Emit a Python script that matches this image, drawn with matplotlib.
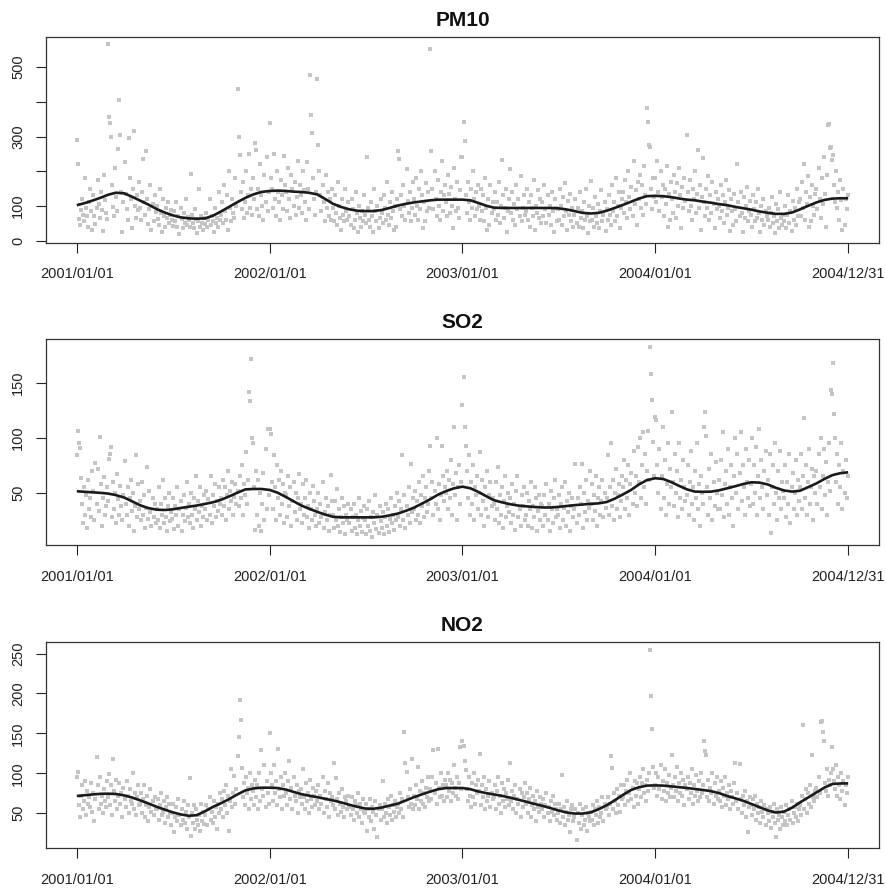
import numpy as np
import pandas as pd
import matplotlib
matplotlib.use("Agg")
import matplotlib.pyplot as plt

plt.rcParams['font.family'] = ['Liberation Sans', 'DejaVu Sans']

# ---------------- scatter data (roughly every 2 days, per year) ----------------
pm10_2001 = [290, 220, 62, 45, 88, 120, 75, 55, 180, 95, 70, 40, 110, 150, 85, 30,
             130, 72, 48, 95, 175, 105, 66, 140, 88, 28, 190, 118, 80, 62,
             568, 355, 340, 300, 160, 98, 70, 210, 125, 85, 264, 406, 303, 140, 25, 110,
             226, 135, 92, 60, 297, 180, 120, 35, 150, 317, 100, 65, 130, 88, 170,
             95, 58, 140, 236, 110, 75, 258, 120, 48, 90, 160, 30, 105, 55, 130, 82,
             100, 62, 45, 150, 80, 25, 120, 70, 40, 95, 65, 110, 50, 75, 88,
             60, 42, 85, 55, 110, 38, 70, 20, 95, 62, 35, 80, 52, 120, 45, 68,
             58, 40, 193, 75, 50, 35, 90, 62, 22, 55, 150, 40, 70, 52, 30, 65,
             48, 80, 38, 60, 120, 45, 72, 55, 25, 95, 50, 65, 40, 140, 58,
             75, 110, 50, 160, 85, 60, 130, 30, 200, 95, 55, 120, 80, 65, 180, 100,
             438, 300, 246, 140, 90, 170, 65, 110, 200, 80, 130, 250, 95, 150, 75,
             180, 120, 281, 262, 90, 150, 70, 220, 130, 100, 60, 190, 110, 240, 85, 140]
pm10_2002 = [339, 180, 150, 95, 250, 120, 70, 200, 140, 110, 60, 175, 130, 90, 245, 160,
             140, 85, 210, 120, 65, 190, 150, 100, 170, 75, 125, 230, 95, 160,
             130, 80, 200, 145, 110, 60, 226, 150, 90, 478, 363, 310, 180, 120, 75, 140,
             467, 277, 200, 130, 85, 160, 110, 55, 190, 95, 140, 70, 120, 60, 150,
             95, 55, 130, 80, 45, 170, 100, 65, 30, 120, 75, 55, 150, 85, 60, 110,
             70, 45, 120, 90, 35, 60, 140, 80, 25, 100, 65, 40, 85, 55, 130,
             75, 50, 240, 95, 60, 40, 110, 70, 25, 150, 85, 55, 100, 35, 65, 120,
             80, 50, 130, 95, 60, 170, 75, 45, 110, 65, 140, 85, 30, 100, 40, 120,
             258, 236, 90, 130, 70, 160, 100, 60, 207, 115, 80, 140, 55, 95, 170,
             120, 75, 180, 100, 60, 150, 90, 200, 130, 35, 110, 55, 165, 85, 140, 95,
             553, 257, 150, 90, 200, 120, 70, 175, 100, 60, 140, 229, 85, 130, 160,
             110, 70, 190, 135, 80, 155, 100, 35, 210, 120, 85, 170, 95, 65, 145, 241]
pm10_2003 = [241, 341, 288, 130, 80, 170, 110, 60, 150, 95, 200, 120, 70, 140, 90, 160,
             100, 60, 150, 85, 130, 55, 180, 95, 30, 120, 45, 160, 80, 110,
             90, 140, 60, 110, 75, 170, 50, 100, 232, 130, 65, 95, 150, 25, 85, 120,
             207, 80, 140, 60, 105, 45, 160, 90, 120, 70, 185, 55, 95, 130, 75,
             85, 150, 60, 110, 40, 130, 95, 70, 175, 30, 100, 80, 145, 65, 120, 50,
             110, 70, 160, 90, 50, 130, 75, 100, 45, 140, 85, 25, 120, 95, 55,
             90, 60, 150, 100, 45, 125, 70, 165, 85, 30, 115, 75, 135, 55, 95, 40,
             75, 120, 50, 95, 40, 140, 65, 85, 35, 110, 60, 150, 70, 22, 100, 55,
             172, 60, 95, 40, 125, 70, 50, 105, 35, 85, 145, 55, 75, 110, 28,
             90, 60, 130, 75, 45, 160, 85, 110, 55, 180, 70, 100, 140, 35, 95, 120,
             140, 80, 175, 110, 65, 200, 125, 90, 155, 70, 230, 105, 145, 45, 170,
             120, 190, 95, 160, 75, 215, 130, 105, 383, 341, 277, 270, 150, 90, 180, 125]
pm10_2004 = [180, 110, 230, 140, 85, 200, 125, 160, 70, 150, 105, 215, 40, 135, 60, 170,
             120, 80, 190, 140, 65, 165, 100, 210, 130, 35, 155, 95, 180, 115,
             304, 140, 85, 175, 100, 60, 150, 120, 200, 80, 135, 262, 95, 160, 30, 125,
             239, 110, 70, 150, 95, 185, 60, 130, 80, 170, 105, 35, 140, 90, 120,
             100, 65, 160, 85, 130, 50, 110, 175, 75, 95, 145, 28, 120, 85, 45, 135,
             90, 55, 222, 110, 70, 140, 80, 25, 125, 65, 100, 155, 55, 85, 115,
             75, 40, 130, 90, 55, 110, 65, 150, 80, 25, 100, 60, 120, 45, 85, 70,
             60, 95, 40, 80, 125, 50, 70, 22, 105, 55, 90, 35, 140, 65, 45, 75,
             55, 100, 35, 75, 130, 50, 85, 28, 115, 60, 95, 45, 150, 70, 110,
             120, 70, 170, 95, 222, 60, 140, 105, 185, 40, 125, 55, 160, 100, 75, 135,
             150, 90, 210, 120, 65, 180, 105, 240, 135, 40, 190, 332, 335, 267, 270,
             233, 246, 160, 110, 200, 95, 140, 60, 175, 116, 30, 150, 45, 120, 90, 130]

so2_2001 = [84, 106, 95, 91, 63, 40, 22, 55, 30, 48, 18, 62, 35, 45, 28, 70,
            52, 25, 77, 40, 72, 33, 101, 58, 20, 45, 64, 30, 38, 55,
            42, 81, 85, 92, 28, 60, 35, 50, 22, 67, 44, 30, 56, 38, 25, 48,
            79, 40, 30, 55, 20, 45, 62, 33, 50, 15, 38, 84, 28, 58, 35,
            42, 25, 60, 30, 48, 18, 36, 73, 26, 52, 32, 20, 45, 28, 40, 22,
            35, 25, 55, 18, 40, 30, 62, 22, 45, 28, 15, 38, 50, 24, 32,
            26, 45, 17, 38, 30, 55, 20, 35, 42, 15, 30, 48, 24, 36, 60, 28,
            40, 22, 50, 30, 18, 45, 35, 65, 25, 42, 32, 55, 20, 38, 28, 48,
            35, 52, 25, 44, 30, 65, 22, 48, 38, 58, 28, 42, 33, 55, 40,
            45, 30, 62, 38, 55, 25, 48, 70, 35, 52, 42, 60, 30, 46, 58, 40,
            52, 38, 65, 45, 75, 30, 58, 48, 87, 40, 62, 142, 134, 172, 100,
            95, 55, 16, 70, 30, 62, 20, 50, 15, 40, 68, 25, 90, 35, 108, 48]
so2_2002 = [108, 104, 60, 35, 84, 55, 25, 75, 45, 62, 30, 70, 40, 58, 22, 50,
            48, 28, 65, 38, 55, 20, 42, 60, 32, 50, 25, 45, 67, 35,
            40, 22, 58, 30, 45, 62, 28, 38, 18, 50, 35, 25, 56, 42, 30, 20,
            35, 50, 22, 40, 28, 60, 18, 32, 45, 25, 38, 15, 30, 66, 42,
            30, 18, 42, 25, 53, 20, 35, 14, 28, 45, 22, 38, 12, 30, 25, 40,
            22, 35, 15, 28, 40, 18, 30, 12, 25, 45, 20, 33, 14, 27, 38,
            25, 12, 35, 20, 42, 15, 28, 10, 32, 22, 48, 17, 30, 13, 38, 24,
            18, 32, 12, 28, 40, 20, 35, 14, 26, 45, 22, 30, 16, 38, 25, 50,
            28, 42, 20, 35, 84, 25, 48, 18, 38, 30, 55, 22, 76, 32, 45,
            35, 52, 25, 42, 30, 60, 22, 48, 38, 65, 28, 45, 55, 32, 40, 70,
            93, 45, 60, 30, 52, 40, 100, 35, 58, 25, 48, 93, 65, 42, 55,
            50, 70, 35, 62, 45, 80, 30, 58, 110, 48, 68, 25, 55, 75, 40, 60]
so2_2003 = [130, 156, 110, 93, 70, 45, 84, 30, 60, 40, 75, 25, 55, 48, 65, 35,
            50, 87, 30, 62, 42, 20, 55, 35, 70, 28, 48, 60, 38, 45,
            40, 25, 60, 35, 73, 22, 48, 30, 55, 18, 42, 65, 28, 38, 50, 32,
            45, 22, 58, 30, 40, 16, 52, 65, 28, 35, 20, 48, 38, 55, 25,
            30, 50, 20, 42, 35, 60, 18, 38, 28, 55, 45, 15, 33, 48, 25, 40,
            38, 20, 48, 30, 58, 25, 40, 15, 52, 35, 22, 45, 62, 28, 35,
            30, 48, 18, 40, 55, 25, 36, 60, 20, 42, 32, 50, 15, 38, 45, 28,
            35, 76, 22, 45, 30, 55, 40, 76, 18, 50, 32, 62, 25, 42, 36, 70,
            40, 58, 25, 48, 33, 65, 20, 45, 55, 30, 42, 62, 28, 50, 36,
            45, 84, 30, 55, 95, 38, 62, 25, 50, 72, 35, 48, 58, 28, 42, 65,
            55, 80, 35, 62, 45, 75, 30, 58, 68, 40, 88, 50, 65, 38, 92,
            60, 100, 45, 75, 105, 55, 85, 40, 70, 106, 62, 183, 158, 135, 96, 65]
so2_2004 = [119, 116, 75, 50, 90, 35, 65, 110, 45, 80, 30, 58, 95, 40, 72, 55,
            124, 60, 38, 85, 50, 70, 28, 95, 45, 62, 35, 80, 55, 42,
            48, 75, 30, 60, 88, 40, 55, 25, 70, 45, 95, 35, 58, 20, 65, 50,
            40, 110, 124, 102, 55, 30, 72, 45, 85, 25, 60, 38, 78, 50, 35,
            62, 35, 80, 48, 105, 28, 58, 70, 40, 90, 30, 55, 75, 45, 20, 65,
            100, 50, 85, 35, 68, 105, 42, 75, 55, 30, 90, 60, 45, 80, 38,
            58, 100, 40, 75, 50, 92, 30, 65, 108, 45, 80, 55, 35, 70, 88, 48,
            62, 30, 85, 13, 55, 75, 40, 95, 50, 25, 70, 45, 88, 35, 60, 52,
            45, 75, 28, 60, 40, 85, 22, 55, 68, 35, 50, 80, 30, 62, 42,
            55, 85, 35, 65, 118, 45, 75, 30, 60, 90, 40, 55, 72, 25, 65, 50,
            70, 40, 85, 55, 100, 35, 65, 90, 48, 78, 30, 60, 95, 52, 144,
            140, 168, 122, 100, 60, 85, 40, 75, 55, 95, 35, 70, 50, 80, 45, 65]

no2_2001 = [95, 102, 60, 45, 72, 85, 55, 65, 90, 48, 78, 62, 70, 58, 88, 52,
            75, 40, 68, 120, 85, 55, 95, 62, 72, 50, 80, 65, 58, 90,
            70, 99, 60, 85, 48, 118, 78, 65, 92, 55, 72, 88, 62, 75, 45, 82,
            68, 58, 90, 72, 50, 80, 65, 62, 100, 55, 75, 48, 70, 85, 60,
            62, 75, 50, 68, 85, 45, 60, 72, 40, 58, 80, 52, 65, 48, 70, 55,
            55, 68, 42, 60, 75, 48, 52, 65, 38, 58, 70, 45, 62, 50, 35,
            50, 62, 27, 45, 58, 40, 68, 48, 35, 55, 42, 65, 38, 52, 30, 60,
            45, 94, 22, 50, 38, 60, 30, 55, 42, 35, 48, 28, 62, 40, 52, 36,
            48, 60, 35, 55, 70, 42, 52, 38, 65, 45, 58, 30, 62, 50, 75,
            55, 68, 45, 78, 60, 85, 50, 72, 28, 65, 105, 58, 75, 96, 62, 80,
            121, 146, 192, 167, 107, 70, 88, 60, 95, 75, 82, 55, 100, 68, 85,
            78, 60, 92, 70, 85, 55, 100, 65, 129, 80, 72, 110, 58, 90, 75, 62]
no2_2002 = [150, 100, 85, 65, 110, 75, 90, 60, 130, 80, 70, 95, 55, 85, 72, 100,
            75, 60, 90, 115, 68, 82, 55, 95, 72, 65, 85, 50, 78, 70,
            80, 62, 105, 70, 55, 88, 65, 75, 50, 92, 68, 58, 82, 72, 60, 78,
            65, 85, 55, 72, 62, 95, 50, 78, 68, 58, 88, 45, 75, 65, 70,
            60, 113, 55, 94, 68, 48, 75, 62, 52, 80, 58, 45, 70, 65, 55, 72,
            58, 48, 70, 55, 42, 65, 60, 50, 75, 45, 62, 55, 38, 68, 52,
            50, 62, 28, 55, 45, 68, 40, 58, 52, 30, 65, 48, 20, 55, 60, 42,
            55, 90, 45, 62, 50, 38, 68, 58, 48, 72, 42, 60, 52, 65, 45, 58,
            62, 50, 75, 55, 68, 45, 152, 113, 102, 70, 58, 80, 62, 118, 55,
            72, 60, 85, 68, 108, 55, 78, 65, 90, 62, 75, 58, 82, 70, 95, 65,
            80, 68, 95, 129, 75, 88, 62, 130, 82, 70, 100, 72, 85, 65, 92,
            85, 70, 100, 78, 92, 65, 88, 75, 110, 82, 72, 95, 68, 88, 133, 80]
no2_2003 = [140, 134, 115, 104, 80, 65, 95, 72, 58, 88, 70, 100, 62, 85, 75, 92,
            78, 124, 60, 85, 70, 95, 55, 80, 65, 72, 90, 58, 75, 68,
            70, 85, 55, 78, 95, 62, 72, 50, 88, 65, 80, 58, 75, 68, 92, 60,
            113, 65, 78, 55, 72, 85, 50, 68, 62, 80, 45, 75, 58, 70, 88,
            62, 75, 50, 68, 82, 45, 60, 72, 55, 65, 40, 78, 58, 52, 70, 62,
            55, 68, 45, 60, 75, 50, 58, 40, 65, 52, 72, 48, 62, 55, 42,
            50, 62, 38, 55, 98, 45, 58, 35, 52, 65, 42, 48, 26, 55, 60, 40,
            45, 55, 17, 50, 38, 62, 30, 48, 55, 35, 42, 58, 28, 50, 45, 40,
            52, 42, 60, 35, 55, 48, 65, 38, 58, 45, 50, 70, 40, 62, 55,
            58, 70, 48, 62, 121, 106, 55, 75, 65, 50, 80, 60, 72, 52, 85, 68,
            70, 85, 60, 78, 92, 65, 75, 100, 68, 82, 58, 90, 72, 88, 62,
            80, 95, 70, 88, 105, 75, 85, 65, 92, 78, 100, 254, 197, 156, 108, 82]
no2_2004 = [85, 100, 72, 95, 80, 110, 68, 90, 78, 105, 65, 88, 75, 98, 70, 82,
            123, 85, 70, 95, 78, 108, 65, 88, 75, 100, 72, 92, 60, 85,
            80, 95, 68, 88, 75, 105, 62, 85, 72, 98, 78, 65, 90, 70, 100, 75,
            85, 140, 128, 123, 70, 92, 65, 82, 75, 100, 62, 88, 72, 95, 68,
            78, 65, 90, 58, 82, 72, 95, 60, 75, 68, 85, 55, 78, 70, 62, 88,
            113, 65, 75, 55, 111, 68, 50, 72, 60, 78, 45, 65, 26, 58, 70,
            60, 48, 68, 55, 72, 42, 62, 50, 58, 38, 65, 52, 45, 60, 35, 55,
            50, 40, 58, 32, 52, 45, 62, 38, 20, 55, 42, 48, 30, 58, 45, 35,
            52, 40, 60, 35, 48, 55, 42, 65, 38, 50, 58, 45, 62, 40, 55,
            60, 48, 72, 161, 55, 68, 80, 50, 75, 62, 85, 58, 123, 70, 65, 78,
            82, 70, 95, 75, 164, 166, 152, 140, 88, 78, 105, 72, 92, 85, 100,
            133, 105, 90, 80, 110, 72, 95, 85, 68, 100, 78, 90, 60, 85, 75, 95]

# ---------------- smooth curve values (1st and 16th of each month, plus 2004/12/31) ----------------
curve_dates = [pd.Timestamp(year=y, month=m, day=d)
               for y in range(2001, 2005) for m in range(1, 13) for d in (1, 16)]
curve_dates.append(pd.Timestamp("2004-12-31"))

pm10_smooth = [102, 108, 116, 124, 132, 138, 136, 126, 115, 104, 91, 81,
               73, 67, 64, 63, 64, 72, 84, 97, 111, 123, 133, 140,
               143, 144, 143, 141, 140, 138, 133, 120, 106, 97, 90, 86,
               85, 85, 88, 94, 101, 106, 110, 113, 116, 118, 118, 118,
               118, 116, 108, 100, 95, 94, 94, 94, 94, 94, 94, 94,
               93, 90, 85, 80, 78, 80, 86, 94, 103, 112, 121, 128,
               129, 128, 125, 121, 118, 116, 112, 109, 105, 102, 97, 93,
               89, 84, 80, 77, 77, 81, 90, 100, 110, 117, 121, 122, 122]
so2_smooth = [51.3, 50.8, 50.3, 49.8, 49.2, 47.8, 45.5, 42, 38.5, 36, 34.5, 34.2,
              34.8, 36, 37.2, 38.3, 39.8, 41.3, 43.5, 46.5, 50, 53, 53.4, 53.4,
              52.5, 50, 46, 42, 38.5, 35.5, 32.5, 30, 28, 27.5, 27.5, 27.5,
              27.5, 27.5, 28, 29.3, 31, 33.5, 36.3, 40, 44, 48.3, 51.5, 54,
              55.5, 54, 50.5, 46.5, 43.2, 41.3, 39.5, 38.3, 37.6, 37, 36.5, 36.5,
              37, 37.8, 38.6, 39.2, 39.8, 40.3, 41.5, 44.5, 48.5, 52.5, 57.5, 61.5,
              63.2, 62.5, 59.5, 56, 53, 51, 50.8, 51, 52.2, 54, 56, 58,
              59.5, 59.2, 57.5, 54.5, 52, 51, 51.8, 55, 58.5, 62.5, 66, 67.8, 68.6]
no2_smooth = [71.5, 72.5, 73.5, 74.3, 74.4, 74, 72.2, 69.5, 66, 62.3, 58, 54.5,
              51.2, 48.5, 46.7, 47.5, 52.5, 58, 62.5, 67.5, 73.5, 78.5, 81, 81.9,
              81.9, 81.5, 79.5, 76.5, 74, 72, 70, 68, 66, 63.5, 60.5, 58,
              55.8, 55.5, 57, 59.5, 62, 66, 70, 73.5, 77, 80, 81.5, 81.5,
              81.5, 80, 77, 75, 73.5, 71.8, 69.5, 67, 64.5, 61.8, 59.2, 56.5,
              53.5, 51, 49.5, 49.5, 51, 55, 60, 66, 73, 79, 82.5, 84.5,
              84.8, 84.5, 83.5, 82.5, 81.5, 80.3, 79, 77.5, 75, 71.5, 68.5, 65.3,
              61.5, 57.5, 53.5, 50.8, 52, 57, 63.5, 69.5, 76, 82, 86.5, 87.2, 87.3]

titles = ["PM10", "SO2", "NO2"]
xtick_labels = ["2001/01/01", "2002/01/01", "2003/01/01", "2004/01/01", "2004/12/31"]
pm10_yticks = [0, 100, 200, 300, 400, 500]
pm10_ylabels = ["0", "100", "", "300", "", "500"]
so2_yticks = [50, 100, 150]
no2_yticks = [50, 100, 150, 200, 250]


def year_dates(year, vals):
    start = pd.Timestamp(f"{year}-01-01")
    ndays = 366 if year % 4 == 0 else 365
    n = len(vals)
    return start + pd.to_timedelta(np.arange(n) * ndays / n, unit="D")


series = [
    ([pm10_2001, pm10_2002, pm10_2003, pm10_2004], pm10_smooth, (-7, 587), pm10_yticks, pm10_ylabels),
    ([so2_2001, so2_2002, so2_2003, so2_2004], so2_smooth, (2, 190), so2_yticks, [str(t) for t in so2_yticks]),
    ([no2_2001, no2_2002, no2_2003, no2_2004], no2_smooth, (6, 264), no2_yticks, [str(t) for t in no2_yticks]),
]

fig = plt.figure(figsize=(8.86, 8.92), dpi=100)
bottoms = [0.7276, 0.3887, 0.0490]
height = 0.2309
xtick_dates = [pd.Timestamp(s.replace("/", "-")) for s in xtick_labels]
x0 = pd.Timestamp("2001-01-01")
x1 = pd.Timestamp("2004-12-31")
span = (x1 - x0).days
xlim = (x0 - pd.Timedelta(days=span * 0.04), x1 + pd.Timedelta(days=span * 0.04))

for (years, smooth, ylim, yt, ylab), title, b in zip(series, titles, bottoms):
    ax = fig.add_axes([0.0519, b, 0.9402, height])
    for yr, vals in zip([2001, 2002, 2003, 2004], years):
        ax.scatter(year_dates(yr, vals), vals, s=5.5, marker="s", color="#c4c4c4",
                   linewidths=0, zorder=2)
    ax.plot(curve_dates, smooth, color="#1a1a1a", lw=1.9, zorder=3,
            solid_joinstyle="round", solid_capstyle="butt")
    ax.set_xlim(xlim)
    ax.set_ylim(ylim)
    ax.set_xticks(xtick_dates)
    ax.set_xticklabels(xtick_labels)
    ax.set_yticks(yt)
    ax.set_yticklabels(ylab)
    ax.tick_params(axis="x", direction="out", length=7.5, width=0.8, pad=10,
                   labelsize=10.5, colors="#222222")
    ax.tick_params(axis="y", direction="out", length=7, width=0.8, pad=8,
                   labelsize=10.5, colors="#222222", labelrotation=90)
    for lbl in ax.get_yticklabels():
        lbl.set_va("center")
    for sp in ax.spines.values():
        sp.set_color("#333333")
        sp.set_linewidth(0.9)
    ax.set_title(title, fontsize=15, fontweight="bold", pad=8, color="#111111")

fig.savefig("out.png", dpi=100)
